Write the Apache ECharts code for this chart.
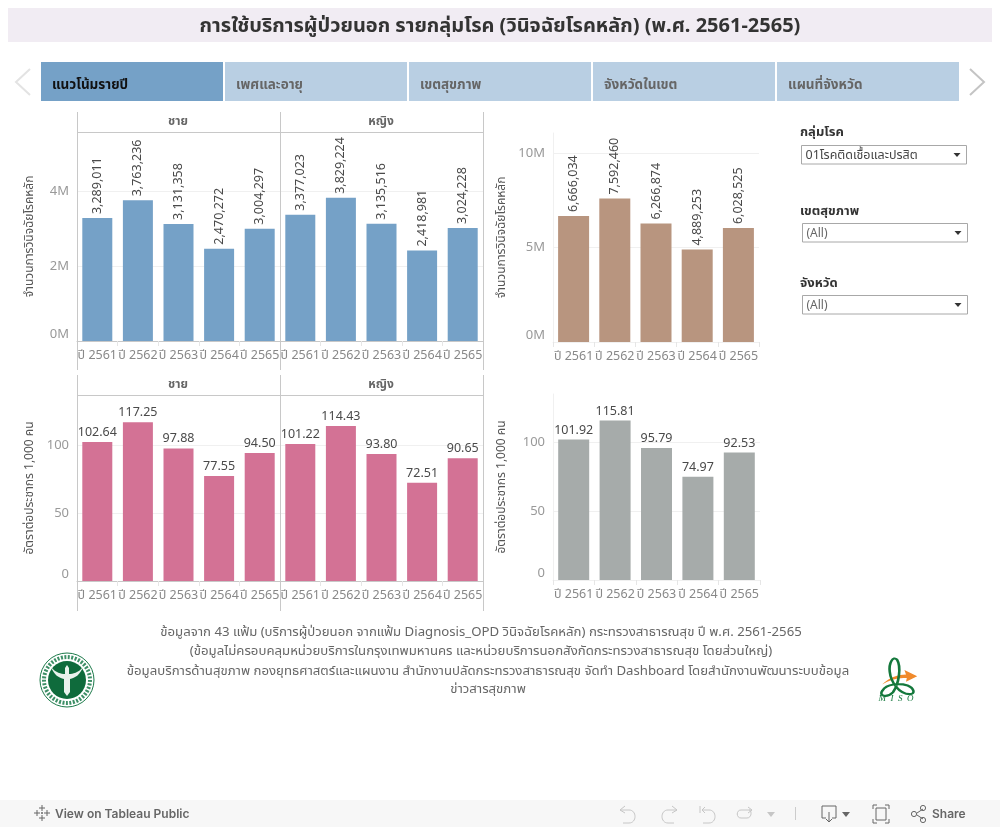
<!DOCTYPE html>
<html>
<head>
<meta charset="utf-8">
<script src="https://cdn.jsdelivr.net/npm/echarts@6/dist/echarts.min.js"></script>
<style>html,body{margin:0;padding:0;background:#fff}#c{width:1000px;height:827px}</style>
</head>
<body>
<div id="c"></div>
<script>
const years = ['ปี 2561','ปี 2562','ปี 2563','ปี 2564','ปี 2565'];
const visitsMale = [3289011,3763236,3131358,2470272,3004297];
const visitsFemale = [3377023,3829224,3135516,2418981,3024228];
const visitsTotal = [6666034,7592460,6266874,4889253,6028525];
const rateMale = [102.64,117.25,97.88,77.55,94.50];
const rateFemale = [101.22,114.43,93.80,72.51,90.65];
const rateTotal = [101.92,115.81,95.79,74.97,92.53];
const titleText = 'การใช้บริการผู้ป่วยนอก รายกลุ่มโรค (วินิจฉัยโรคหลัก) (พ.ศ. 2561-2565)';
const tabs = ['แนวโน้มรายปี','เพศและอายุ','เขตสุขภาพ','จังหวัดในเขต','แผนที่จังหวัด'];
const facets = ['ชาย','หญิง'];
const visitsAxisName = 'จำนวนการวินิจฉัยโรคหลัก';
const rateAxisName = 'อัตราต่อประชากร 1,000 คน';
const filters = [['กลุ่มโรค','01โรคติดเชื้อและปรสิต'],['เขตสุขภาพ','(All)'],['จังหวัด','(All)']];
const footer = [
 'ข้อมูลจาก 43 แฟ้ม (บริการผู้ป่วยนอก จากแฟ้ม Diagnosis_OPD วินิจฉัยโรคหลัก) กระทรวงสาธารณสุข ปี พ.ศ. 2561-2565',
 '(ข้อมูลไม่ครอบคลุมหน่วยบริการในกรุงเทพมหานคร และหน่วยบริการนอกสังกัดกระทรวงสาธารณสุข โดยส่วนใหญ่)',
 'ข้อมูลบริการด้านสุขภาพ กองยุทธศาสตร์และแผนงาน สำนักงานปลัดกระทรวงสาธารณสุข จัดทำ Dashboard โดยสำนักงานพัฒนาระบบข้อมูล',
 'ข่าวสารสุขภาพ'];

const FONT = '"Noto Sans","Noto Sans Thai",sans-serif';
const LINE = '#c8c8c8', GRID = '#f0f0f0';
const fmtM = v => (v/1e6)+'M';
const fmtN = v => v.toLocaleString('en-US');

const panels = [
 {box:[77,132,203,209], data:visitsMale, color:'#75a1c7', max:5590000, step:2000000, yFmt:fmtM, name:visitsAxisName, rot:true, bw:30, hasY:true, nameGap:41},
 {box:[280,132,203,209], data:visitsFemale, color:'#75a1c7', max:5590000, step:2000000, yFmt:fmtM, rot:true, bw:30},
 {box:[553,133,206,209], data:visitsTotal, color:'#b8957f', max:11060000, step:5000000, yFmt:fmtM, name:visitsAxisName, rot:true, bw:31, hasY:true, nameGap:45, axisLine:true},
 {box:[77,395,203,186], data:rateMale, color:'#d37295', max:137.3, step:50, yFmt:String, name:rateAxisName, rot:false, bw:30, hasY:true, nameGap:41},
 {box:[280,395,203,186], data:rateFemale, color:'#d37295', max:137.3, step:50, yFmt:String, rot:false, bw:30},
 {box:[553,394,207,186], data:rateTotal, color:'#a6abaa', max:135, step:50, yFmt:String, name:rateAxisName, rot:false, bw:31, hasY:true, nameGap:45, axisLine:true}
];

const grid=[], xAxis=[], yAxis=[], series=[];
panels.forEach((p,i)=>{
  grid.push({left:p.box[0],top:p.box[1],width:p.box[2],height:p.box[3],containLabel:false});
  xAxis.push({type:'category',gridIndex:i,data:years,
    axisLine:{show:true,lineStyle:{color:p.axisLine?GRID:LINE,width:1}},
    axisTick:{show:true,length:5,alignWithLabel:false,lineStyle:{color:'#e6e6e6'}},
    axisLabel:{interval:0,color:'#888',fontFamily:FONT,fontSize:12.5,margin:8,hideOverlap:false}});
  yAxis.push({type:'value',gridIndex:i,min:0,max:p.max,interval:p.step,
    name:p.name||'',nameLocation:'middle',nameGap:p.nameGap||0,nameRotate:90,
    nameTextStyle:{color:'#555',fontFamily:FONT,fontSize:12},
    axisLine:{show:!!p.axisLine,lineStyle:{color:GRID}},axisTick:{show:false},
    splitLine:{show:true,showMaxLine:false,lineStyle:{color:GRID,width:1}},
    axisLabel:{show:!!p.hasY,formatter:p.yFmt,color:'#999',fontFamily:FONT,fontSize:13,margin:8,showMaxLabel:false,verticalAlignMinLabel:'bottom'}});
  series.push({type:'bar',xAxisIndex:i,yAxisIndex:i,data:p.data,barWidth:p.bw,silent:true,
    itemStyle:{color:p.color},
    label:{show:true,position:'top',distance:p.rot?4:3,rotate:p.rot?90:0,
      align:p.rot?'left':'center',verticalAlign:p.rot?'middle':'bottom',
      color:'#4a4a4a',fontFamily:FONT,fontSize:12.5,
      formatter:o=>p.rot?fmtN(o.value):o.value.toFixed(2)},
    labelLayout:{hideOverlap:false}});
});

const g=[];
let pathCount=0;
const rect=(x,y,w,h,fill,stroke,z)=>g.push({type:'rect',silent:true,z:z||1,shape:{x,y,width:w,height:h},style:{fill:fill||'none',stroke:stroke||'none',lineWidth:1}});
const line=(x1,y1,x2,y2,c,w)=>g.push({type:'line',silent:true,z:5,shape:{x1,y1,x2,y2},style:{stroke:c||LINE,lineWidth:w||1}});
const text=(t,x,y,font,fill,align,fam)=>g.push({type:'text',silent:true,z:6,style:{text:t,x,y,font:font+' '+(fam||FONT),fill,textAlign:align||'left',textVerticalAlign:'middle'}});
const path=(d,x,y,sx,sy,stroke,fill,lw,z)=>{
  const name='iconPath'+(pathCount++);
  echarts.graphic.registerShape(name,echarts.graphic.extendPath(d,{}));
  g.push({type:name,silent:true,z:z||6,x,y,scaleX:sx,scaleY:sy,style:{stroke:stroke||'none',fill:fill||'none',lineWidth:lw||1,strokeNoScale:true}});
};

// title band
rect(8,8,984,34,'#f1ecf3');
text(titleText,500,26.5,'bold 20px','#333','center');

// navigation tabs
tabs.forEach((t,i)=>{
  const x=41+i*184;
  rect(x,62,182,39,i===0?'#75a1c7':'#b9cfe3');
  text(t,x+11,85,'bold 13.5px',i===0?'#111':'#666');
});
path('M14 0L0 13L14 26',16,69,1,1,'#e3e3e3','none',2);
path('M0 0L14 13L0 26',970,69,1,1,'#c4c4c4','none',2);

// facet frames
[77.5,280.5,483.5].forEach(x=>{line(x,112,x,370);line(x,375,x,611);});
line(77,132.5,484,132.5);
line(77,395.5,484,395.5);
[[178,122],[381,122],[178,385],[381,385]].forEach((p,i)=>text(facets[i%2],p[0],p[1],'bold 12px','#666','center'));

// filters
const fy=[[132.5,145],[211,223],[283.5,295]];
filters.forEach((f,i)=>{
  const x=i===0?801.5:802.5;
  text(f[0],800,fy[i][0],'bold 13px','#333');
  rect(x,fy[i][1]+0.5,165,18.5,'#fff','#a8a8a8',2);
  text(f[1],x+4,fy[i][1]+10.5,i===0?'12.5px':'12px',i===0?'#444':'#666');
  g.push({type:'polygon',silent:true,z:6,shape:{points:[[x+152,fy[i][1]+8],[x+159,fy[i][1]+8],[x+155.5,fy[i][1]+12]]},style:{fill:'#333'}});
});

// footer notes
text(footer[0],481,632.5,'13.2px','#666','center');
text(footer[1],481,651.5,'13.2px','#666','center');
text(footer[2],488,671.5,'13.2px','#666','center');
text(footer[3],488,689.5,'13.2px','#666','center');

// ministry logo
g.push({type:'circle',silent:true,z:3,shape:{cx:67,cy:680,r:27},style:{fill:'#fff',stroke:'#1c7a4a',lineWidth:1}});
g.push({type:'circle',silent:true,z:3,shape:{cx:67,cy:680,r:23},style:{fill:'none',stroke:'#3d8f66',lineWidth:4,lineDash:[2,1.5]}});
g.push({type:'circle',silent:true,z:4,shape:{cx:67,cy:680,r:19},style:{fill:'#0f6b3c'}});
path('M0 2C5 8 10 9 14 9L14 3L16 0L18 3L18 9C22 9 27 8 32 2C29 10 24 13 19 14L19 27L16 31L13 27L13 14C8 13 3 10 0 2Z',51,665,1,1,'none','#e9f2ec',1,5);

// MISO logo
path('M0 16C10 8 20 5 30 5L28 0L44 7L30 13L31 9C20 8 10 11 0 16Z',882,670,0.8,0.9,'none','#f08a2c',1,6);
path('M8 38C4 44 12 47 18 40C24 30 26 10 22 2C18 -3 14 6 15 16C16 28 24 42 34 42C40 42 38 35 32 32C24 29 12 30 8 38Z',874,658,1.05,0.86,'#14783c','none',2.4,7);
g.push({type:'text',silent:true,z:7,style:{text:'M  I  S  O',x:896,y:699,font:'italic 9px "Liberation Serif",serif',fill:'#14783c',textAlign:'center',textVerticalAlign:'middle'}});

// toolbar
rect(0,800,1000,27,'#f7f7f7');
const tbIcons='#c6c6c6', tbDark='#666', TBF='Inter,sans-serif';
path('M8 0V6M5 3H11M8 10V16M5 13H11M0 8H6M3 5V11M10 8H16M13 5V11M8 7V9M7 8H9',34,805,1,1,tbDark,'none',1);
text('View on Tableau Public',55,814,'600 12px',tbDark,'left',TBF);
path('M5 0L0 4L5 7M0 4H9C17 4 17 17 9 17H3',620,806,1,1,tbIcons,'none',1);
path('M12 0L17 4L12 7M17 4H8C0 4 0 17 8 17H14',660,806,1,1,tbIcons,'none',1);
path('M0 0V7M5 1L2 4L5 7M2 4H9C17 4 17 17 9 17H3',700,806,1,1,tbIcons,'none',1);
path('M12 0L16 3L12 6M16 3H5C0 3 0 11 5 11H11C16 11 16 3 13 3',736,807,1,1,tbIcons,'none',1);
g.push({type:'polygon',silent:true,z:6,shape:{points:[[767,812],[775,812],[771,817]]},style:{fill:tbIcons}});
line(795.5,807,795.5,820,'#cccccc',1);
path('M4 12H0V0H14V12H10M7 6V16M4 13L7 16L10 13',822,806,1,1,tbDark,'none',1);
g.push({type:'polygon',silent:true,z:6,shape:{points:[[842,812],[850,812],[846,817]]},style:{fill:tbDark}});
path('M0 4V0H4M12 0H16V4M0 14V18H4M12 18H16V14M3 3H13V15H3Z',873,805,1,1,tbDark,'none',1);
path('M5 7L11 3M5 9L11 13',912,806,1,1,tbDark,'none',1);
g.push({type:'circle',silent:true,z:6,shape:{cx:914,cy:814,r:2.6},style:{fill:'none',stroke:tbDark}});
g.push({type:'circle',silent:true,z:6,shape:{cx:923,cy:808,r:2.6},style:{fill:'none',stroke:tbDark}});
g.push({type:'circle',silent:true,z:6,shape:{cx:923,cy:820,r:2.6},style:{fill:'none',stroke:tbDark}});
text('Share',932,814,'600 12px',tbDark,'left',TBF);

const chart=echarts.init(document.getElementById('c'),null,{renderer:'canvas'});
chart.setOption({animation:false,backgroundColor:'#fff',tooltip:{show:false},grid,xAxis,yAxis,series,graphic:{elements:g}});
</script>
</body>
</html>
